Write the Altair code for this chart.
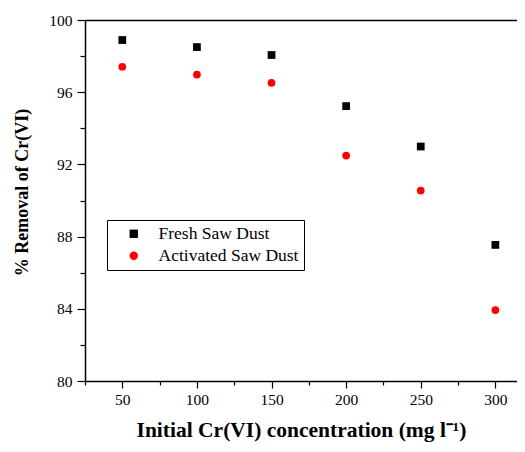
import altair as alt
import pandas as pd

conc = [50, 100, 150, 200, 250, 300]
fresh = [98.89, 98.50, 98.06, 95.23, 92.99, 87.54]
activated = [97.41, 96.98, 96.52, 92.49, 90.55, 83.93]
series = ["Fresh Saw Dust", "Activated Saw Dust"]
x_ticks = [25, 50, 75, 100, 125, 150, 175, 200, 225, 250, 275, 300]
y_ticks = [80, 82, 84, 86, 88, 90, 92, 94, 96, 98, 100]

rows = []
for c, f, a in zip(conc, fresh, activated):
    rows.append({"conc": c, "removal": f, "series": series[0]})
    rows.append({"conc": c, "removal": a, "series": series[1]})
df = pd.DataFrame(rows)

FONT = "Liberation Serif"
XDOM = [25, 314.5]

base = alt.Chart(df)

points = base.mark_point(filled=True, opacity=1, size=60).encode(
    x=alt.X(
        "conc:Q",
        scale=alt.Scale(domain=XDOM, nice=False, zero=False),
        axis=alt.Axis(
            title="Initial Cr(VI) concentration (mg l\u207b\u00b9)",
            values=x_ticks,
            labelExpr="datum.value % 50 === 0 ? datum.label : ''",
            tickSize={"condition": {"test": "datum.value % 50 !== 0", "value": 4}, "value": 7},
            grid=False,
            domainColor="black",
            tickColor="black",
            domainWidth=1.5,
            tickWidth=1.2,
            labelFont=FONT,
            labelFontSize=15.5,
            labelColor="black",
            labelPadding=4,
            titleFont=FONT,
            titleFontSize=21.5,
            titleFontWeight="bold",
            titleColor="black",
            titlePadding=12,
        ),
    ),
    y=alt.Y(
        "removal:Q",
        scale=alt.Scale(domain=[80, 100], nice=False, zero=False),
        axis=alt.Axis(
            title="% Removal of Cr(VI)",
            values=y_ticks,
            labelExpr="datum.value % 4 === 0 ? datum.label : ''",
            tickSize={"condition": {"test": "datum.value % 4 !== 0", "value": 5}, "value": 8},
            grid=False,
            domainColor="black",
            tickColor="black",
            domainWidth=1.5,
            tickWidth=1.2,
            labelFont=FONT,
            labelFontSize=15.5,
            labelColor="black",
            labelPadding=5,
            titleFont=FONT,
            titleFontSize=18,
            titleFontWeight="bold",
            titleColor="black",
            titlePadding=17,
            titleY=172,
        ),
    ),
    color=alt.Color(
        "series:N",
        scale=alt.Scale(domain=series, range=["black", "#ff0000"]),
        legend=alt.Legend(
            title=None,
            orient="none",
            legendX=22,
            legendY=200,
            strokeColor="black",
            padding=5,
            symbolOffset=13,
            labelOffset=16,
            rowPadding=3,
            labelFont=FONT,
            labelFontSize=17.5,
            labelColor="black",
            symbolSize=70,
            labelLimit=300,
            labelExpr="datum.label + '\u00a0\u00a0\u00a0'",
        ),
    ),
    shape=alt.Shape(
        "series:N",
        scale=alt.Scale(domain=series, range=["square", "circle"]),
        legend=alt.Legend(title=None),
    ),
)

top_line = base.mark_point(opacity=0).encode(
    x=alt.X(
        "conc:Q",
        scale=alt.Scale(domain=XDOM, nice=False, zero=False),
        axis=alt.Axis(orient="top", title=None, labels=False, ticks=False,
                      domainColor="black", domainWidth=1.5, grid=False),
    ),
)

chart = alt.layer(points, top_line).resolve_axis(x="independent").properties(
    width=432,
    height=361,
    autosize=alt.AutoSizeParams(type="none"),
    padding={"left": 77, "top": 12, "right": 0, "bottom": 62},
).configure_view(stroke=None)

chart.save("out.html", embed_options={"renderer": "svg", "actions": False})
